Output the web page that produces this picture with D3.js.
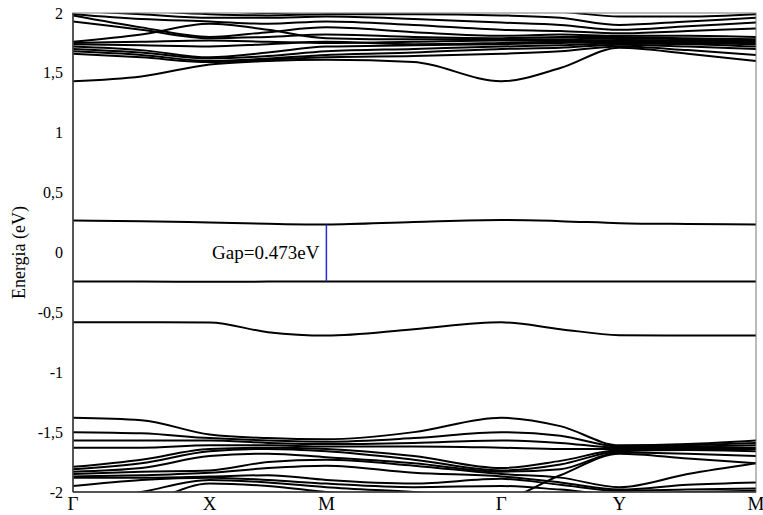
<!DOCTYPE html>
<html>
<head>
<meta charset="utf-8">
<script src="https://cdn.jsdelivr.net/npm/d3@7"></script>
<style>
  body { margin: 0; background: #fff; }
  svg { display: block; font-family: "Liberation Serif", "DejaVu Serif", serif; }
</style>
</head>
<body>
<div id="chart"></div>
<script>
// high symmetry points along the k-path
const kLabels = ["Γ", "X", "M", "Γ", "Y", "M"];
const kTicks = [0, 0.2, 0.371, 0.627, 0.8, 1.0];
// positions where each band is sampled (symmetry points + segment midpoints)
const kSamples = [0, 0.1, 0.2, 0.2855, 0.371, 0.499, 0.627, 0.7135, 0.8, 0.9, 1.0];

const yTicks = [-2, -1.5, -1, -0.5, 0, 0.5, 1, 1.5, 2];
const yTickLabels = ["-2", "-1,5", "-1", "-0,5", "0", "0,5", "1", "1,5", "2"];

// conduction bands (eV)
const upperBands = [
    [1.43, 1.47, 1.57, 1.60, 1.61, 1.59, 1.43, 1.54, 1.71, 1.66, 1.60],
    [1.66, 1.63, 1.59, 1.61, 1.63, 1.64, 1.66, 1.68, 1.72, 1.69, 1.65],
    [1.68, 1.65, 1.60, 1.62, 1.65, 1.67, 1.70, 1.71, 1.735, 1.72, 1.70],
    [1.70, 1.67, 1.62, 1.64, 1.68, 1.70, 1.72, 1.73, 1.745, 1.74, 1.72],
    [1.72, 1.69, 1.63, 1.67, 1.72, 1.73, 1.74, 1.75, 1.755, 1.75, 1.74],
    [1.74, 1.73, 1.72, 1.74, 1.76, 1.74, 1.75, 1.76, 1.765, 1.76, 1.75],
    [1.75, 1.76, 1.77, 1.76, 1.75, 1.76, 1.77, 1.77, 1.775, 1.77, 1.76],
    [1.76, 1.82, 1.91, 1.86, 1.79, 1.78, 1.78, 1.78, 1.79, 1.78, 1.77],
    [1.93, 1.86, 1.79, 1.80, 1.82, 1.80, 1.79, 1.80, 1.80, 1.79, 1.78],
    [1.98, 1.88, 1.80, 1.84, 1.88, 1.84, 1.81, 1.82, 1.81, 1.81, 1.80],
    [1.99, 1.95, 1.93, 1.91, 1.93, 1.90, 1.86, 1.85, 1.83, 1.85, 1.87],
    [2.02, 1.99, 1.96, 1.96, 1.97, 1.95, 1.92, 1.90, 1.86, 1.89, 1.92],
    [2.05, 2.02, 1.99, 1.98, 1.99, 1.99, 1.98, 1.96, 1.90, 1.93, 1.96],
    [2.08, 2.04, 2.02, 2.00, 2.01, 2.02, 2.02, 2.01, 1.97, 1.97, 1.99],
    [2.10, 2.08, 2.05, 2.03, 2.03, 2.04, 2.04, 2.04, 2.05, 2.01, 2.01]
];

// bands around the gap
const cbMin = [0.267, 0.262, 0.250, 0.240, 0.234, 0.255, 0.272, 0.262, 0.245, 0.238, 0.234];
const vbMax = [-0.242, -0.243, -0.244, -0.243, -0.242, -0.242, -0.243, -0.243, -0.242, -0.242, -0.242];
const vbSecond = [-0.582, -0.582, -0.585, -0.665, -0.693, -0.64, -0.583, -0.64, -0.69, -0.693, -0.693];

// valence bands (eV)
const lowerBands = [
    [-1.38, -1.40, -1.52, -1.55, -1.56, -1.50, -1.38, -1.45, -1.61, -1.60, -1.57],
    [-1.50, -1.51, -1.55, -1.57, -1.58, -1.55, -1.50, -1.53, -1.62, -1.61, -1.59],
    [-1.57, -1.57, -1.57, -1.59, -1.60, -1.59, -1.57, -1.59, -1.63, -1.62, -1.61],
    [-1.63, -1.63, -1.61, -1.61, -1.62, -1.62, -1.63, -1.64, -1.64, -1.63, -1.63],
    [-1.79, -1.73, -1.64, -1.63, -1.64, -1.70, -1.80, -1.74, -1.65, -1.64, -1.64],
    [-1.81, -1.76, -1.66, -1.64, -1.66, -1.73, -1.82, -1.77, -1.66, -1.65, -1.66],
    [-1.83, -1.80, -1.70, -1.68, -1.71, -1.76, -1.83, -1.81, -1.67, -1.68, -1.70],
    [-1.85, -1.83, -1.82, -1.75, -1.73, -1.78, -1.85, -1.88, -1.96, -1.85, -1.76],
    [-1.87, -1.86, -1.84, -1.80, -1.78, -1.84, -1.87, -1.92, -1.98, -1.94, -1.92],
    [-1.88, -1.88, -1.87, -1.86, -1.90, -1.93, -1.89, -1.94, -1.99, -1.98, -1.97],
    [-1.95, -1.90, -1.88, -1.90, -1.93, -1.96, -1.95, -1.98, -2.02, -2.00, -1.99],
    [-2.10, -2.00, -1.90, -1.92, -1.96, -2.00, -2.05, -1.86, -1.68, -1.72, -1.76],
    [-2.20, -2.10, -1.93, -1.95, -2.00, -2.05, -2.10, -2.10, -2.10, -2.06, -2.04]
];

const gapText = "Gap=0.473eV";
const gapK = 0.371;
const gapTop = 0.234, gapBottom = -0.242;

const margin = { top: 13, right: 7, bottom: 23, left: 73 };
const width = 763 - margin.left - margin.right;
const height = 515 - margin.top - margin.bottom;

const svg = d3.select("#chart").append("svg")
    .attr("width", 763)
    .attr("height", 515);

const g = svg.append("g")
    .attr("transform", `translate(${margin.left},${margin.top})`);

const x = d3.scaleLinear().domain([0, 1]).range([0, width]);
const y = d3.scaleLinear().domain([-2, 2]).range([height, 0]);

g.append("clipPath").attr("id", "clip")
  .append("rect").attr("width", width).attr("height", height);

const allBands = [...upperBands, cbMin, vbMax, vbSecond, ...lowerBands];

const line = d3.line()
    .x((d, i) => x(kSamples[i]))
    .y(d => y(d))
    .curve(d3.curveMonotoneX);

g.append("g")
    .attr("clip-path", "url(#clip)")
    .selectAll("path")
    .data(allBands)
    .join("path")
      .attr("fill", "none")
      .attr("stroke", "#000")
      .attr("stroke-width", 2)
      .attr("d", line);

// frame
g.append("rect")
    .attr("width", width).attr("height", height)
    .attr("fill", "none")
    .attr("stroke", "#777")
    .attr("stroke-width", 1);
g.append("line")
    .attr("x1", 0).attr("x2", 0).attr("y1", 0).attr("y2", height)
    .attr("stroke", "#333").attr("stroke-width", 1.5);
g.append("line")
    .attr("x1", 0).attr("x2", width).attr("y1", height).attr("y2", height)
    .attr("stroke", "#333").attr("stroke-width", 1.5);

// y tick labels
g.append("g")
    .selectAll("text")
    .data(yTicks)
    .join("text")
      .attr("x", -10)
      .attr("y", d => y(d))
      .attr("dy", "0.35em")
      .attr("text-anchor", "end")
      .attr("font-size", 16)
      .text((d, i) => yTickLabels[i]);

// k-path labels
g.append("g")
    .selectAll("text")
    .data(kTicks)
    .join("text")
      .attr("x", d => x(d))
      .attr("y", height + 18)
      .attr("text-anchor", "middle")
      .attr("font-size", 19)
      .text((d, i) => kLabels[i]);

// axis title
svg.append("text")
    .attr("transform", `translate(25,${margin.top + y(0)}) rotate(-90)`)
    .attr("text-anchor", "middle")
    .attr("font-size", 18)
    .text("Energia (eV)");

// gap marker
g.append("line")
    .attr("x1", x(gapK)).attr("x2", x(gapK))
    .attr("y1", y(gapTop)).attr("y2", y(gapBottom))
    .attr("stroke", "#2a2ad8").attr("stroke-width", 1.5);

g.append("text")
    .attr("x", x(gapK) - 7)
    .attr("y", y(0))
    .attr("dy", "0.35em")
    .attr("text-anchor", "end")
    .attr("font-size", 19)
    .text(gapText);
</script>
</body>
</html>
